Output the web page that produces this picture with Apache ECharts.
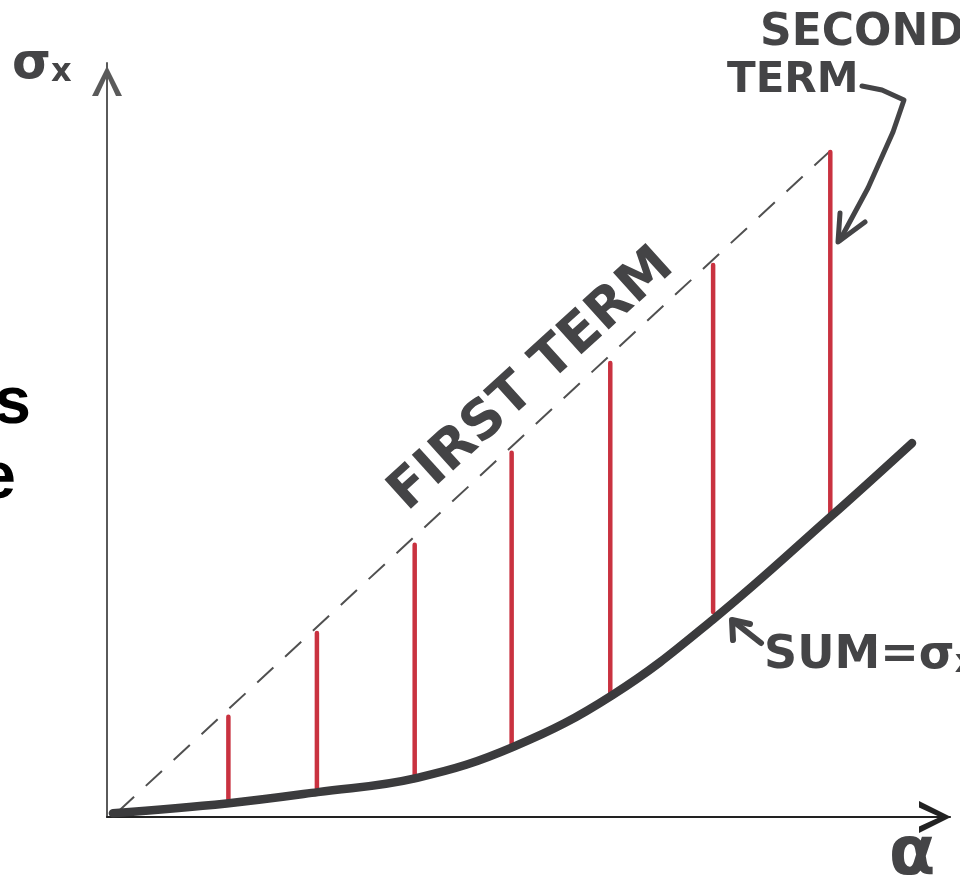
<!DOCTYPE html>
<html>
<head>
<meta charset="utf-8">
<script src="https://cdn.jsdelivr.net/npm/echarts@6/dist/echarts.min.js"></script>
<style>
	html, body { margin: 0; padding: 0; background: #ffffff; }
	#echarts-main { width: 960px; height: 879px; }
</style>
</head>
<body>
<div id="echarts-main"></div>
<script>
// values (alpha on x, sigma_x on y, both 0..10)
var redX = [1.44, 2.49, 3.65, 4.80, 5.97, 7.19, 8.58];
var redTop = [1.33, 2.44, 3.61, 4.83, 6.02, 7.32, 8.82];
var redBottom = [0.20, 0.33, 0.49, 0.93, 1.64, 2.72, 3.98];

var firstX = [0.13, 8.72];
var firstY = [0.07, 8.98];

var sumX = [0.07, 1.42, 2.50, 3.68, 4.82, 6.00, 7.19, 8.58, 9.55];
var sumY = [0.05, 0.18, 0.33, 0.52, 0.93, 1.62, 2.62, 3.98, 4.96];

var ink = '#444446';
var red = '#c93240';
var hand = '"DejaVu Sans", sans-serif';

var chevron = 'path://M0,20 L10,0 L20,20 L16,20 L10,7 L4,20 Z';

var myChart = echarts.init(document.getElementById('echarts-main'));

function pairs(xs, ys) {
	var out = [];
	for (var i = 0; i < xs.length; i++) out.push([xs[i], ys[i]]);
	return out;
}

var stems = [];
for (var i = 0; i < redX.length; i++) stems.push([redX[i], redTop[i], redBottom[i]]);

var option = {
	backgroundColor: '#ffffff',
	animation: false,
	grid: { left: 107, right: 10, top: 63, bottom: 62 },
	xAxis: {
		type: 'value', min: 0, max: 10,
		axisLine: {
			show: true,
			symbol: ['none', chevron],
			symbolSize: [32, 34],
			symbolOffset: [0, -15],
			lineStyle: { color: '#222', width: 2 }
		},
		axisTick: { show: false },
		axisLabel: { show: false },
		splitLine: { show: false }
	},
	yAxis: {
		type: 'value', min: 0, max: 10,
		axisLine: {
			show: true,
			symbol: ['none', chevron],
			symbolSize: [30, 46],
			symbolOffset: [0, -18],
			lineStyle: { color: '#5a5a5a', width: 2 }
		},
		axisTick: { show: false },
		axisLabel: { show: false },
		splitLine: { show: false }
	},
	series: [
		{
			name: 'first term',
			type: 'line',
			data: pairs(firstX, firstY),
			symbol: 'none',
			lineStyle: { color: '#505050', width: 2, type: [22, 16] },
			z: 1
		},
		{
			name: 'second term',
			type: 'custom',
			data: stems,
			renderItem: function (params, api) {
				var top = api.coord([api.value(0), api.value(1)]);
				var bottom = api.coord([api.value(0), api.value(2)]);
				return {
					type: 'line',
					shape: { x1: top[0], y1: top[1], x2: bottom[0], y2: bottom[1] },
					style: { stroke: red, lineWidth: 4.5, lineCap: 'round' }
				};
			},
			z: 2
		},
		{
			name: 'sum',
			type: 'line',
			data: pairs(sumX, sumY),
			smooth: 0.4,
			symbol: 'none',
			lineStyle: { color: '#3b3b3d', width: 8.5, cap: 'round' },
			z: 3
		}
	],
	graphic: [
		// left slide text fragments
		{ type: 'text', x: 31, y: 405, style: { text: 's', font: 'bold 66px "Liberation Sans", Arial, sans-serif', fill: '#000', align: 'right', verticalAlign: 'middle' } },
		{ type: 'text', x: 16, y: 480, style: { text: 'e', font: 'bold 66px "Liberation Sans", Arial, sans-serif', fill: '#000', align: 'right', verticalAlign: 'middle' } },
		// axis names
		{ type: 'text', x: 12, y: 40, style: {
			text: '{s|σ}{x|x}', fill: ink,
			rich: {
				s: { font: 'bold 50px ' + hand, fill: ink },
				x: { font: 'bold 32px ' + hand, fill: ink, padding: [16, 0, 0, 0] }
			}
		} },
		{ type: 'text', x: 912, y: 856, style: { text: 'α', font: 'bold 68px ' + hand, fill: ink, align: 'center', verticalAlign: 'middle' } },
		// annotations
		{ type: 'text', x: 532, y: 380, rotation: 0.736, style: { text: 'FIRST TERM', font: 'bold 54px ' + hand, fill: ink, align: 'center', verticalAlign: 'middle' } },
		{ type: 'text', x: 760, y: 34, style: { text: 'SECOND', font: 'bold 44px ' + hand, fill: ink, verticalAlign: 'middle' } },
		{ type: 'text', x: 727, y: 81, style: { text: 'TERM', font: 'bold 42px ' + hand, fill: ink, verticalAlign: 'middle' } },
		{ type: 'polyline', shape: { points: [[862, 86], [882, 90], [904, 100], [893, 132], [868, 188], [840, 240]] }, style: { stroke: ink, lineWidth: 5, fill: null, lineCap: 'round', lineJoin: 'round' } },
		{ type: 'polyline', shape: { points: [[840, 213], [838, 242], [865, 222]] }, style: { stroke: ink, lineWidth: 5, fill: null, lineCap: 'round', lineJoin: 'round' } },
		{ type: 'text', x: 764, y: 656, style: { text: 'SUM=σ{x|x}', font: 'bold 46px ' + hand, fill: ink, verticalAlign: 'middle',
			rich: { x: { font: 'bold 32px ' + hand, fill: ink, padding: [16, 0, 0, 0] } } } },
		{ type: 'polyline', shape: { points: [[761, 643], [733, 621]] }, style: { stroke: ink, lineWidth: 6, fill: null, lineCap: 'round' } },
		{ type: 'polyline', shape: { points: [[733, 640], [732, 620], [750, 624]] }, style: { stroke: ink, lineWidth: 6, fill: null, lineCap: 'round', lineJoin: 'round' } }
	]
};

myChart.setOption(option);
</script>
</body>
</html>
